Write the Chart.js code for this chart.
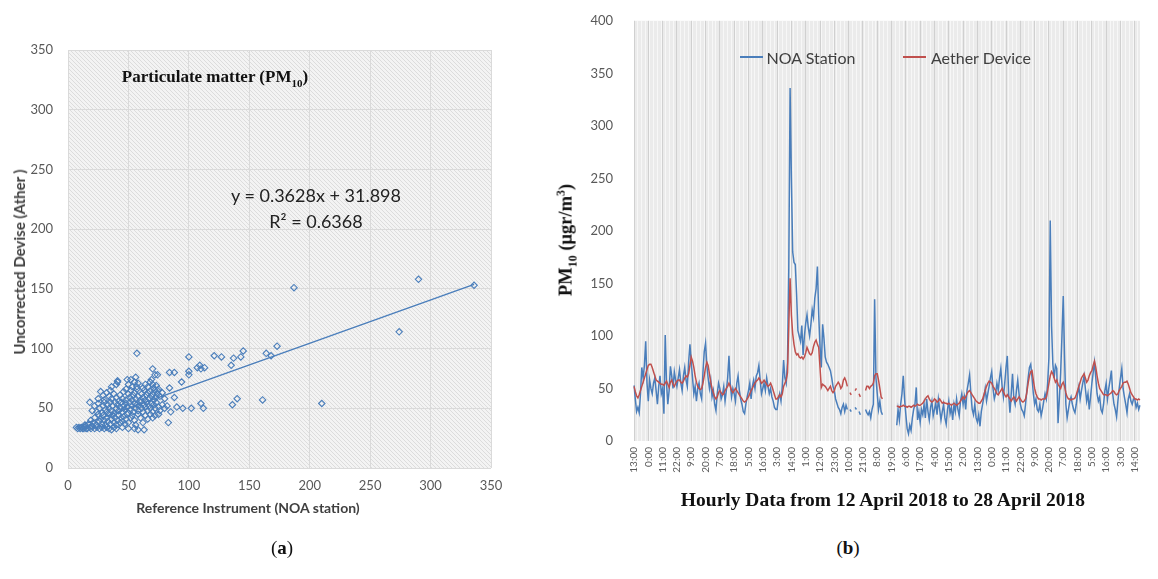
<!DOCTYPE html>
<html>
<head>
<meta charset="utf-8">
<script src="https://cdn.jsdelivr.net/npm/chart.js@4.4.1/dist/chart.umd.min.js"></script>
<style>
  body { margin: 0; background: #fff; width: 1158px; height: 579px; position: relative; overflow: hidden; font-family: Lato, "Open Sans", sans-serif; }
  .box { position: absolute; }
  .t { position: absolute; white-space: nowrap; transform: translate(-50%, -50%); }
  .serif { font-family: "Liberation Serif", "DejaVu Serif", serif; font-weight: bold; color: #111; }
  .rot { transform: translate(-50%, -50%) rotate(-90deg); }
  .key { position: absolute; height: 2px; }
</style>
</head>
<body>
<div class="box" style="left:0;top:0;width:520px;height:500px"><canvas id="scatter"></canvas></div>
<div class="box" style="left:560px;top:0;width:598px;height:495px"><canvas id="series"></canvas></div>

<!-- (a) texts -->
<div class="t serif" style="left:215px;top:78px;font-size:17px">Particulate matter (PM<sub style="font-size:11px">10</sub>)</div>
<div class="t" style="left:316px;top:195px;font-size:18px;color:#222">y = 0.3628x + 31.898</div>
<div class="t" style="left:316px;top:221px;font-size:18px;color:#222">R² = 0.6368</div>
<div class="t rot" style="left:19px;top:262px;font-size:15px;font-weight:bold;color:#404040">Uncorrected Devise (Ather )</div>
<div class="t" style="left:248px;top:507px;font-size:14px;font-weight:bold;color:#404040">Reference Instrument (NOA station)</div>
<div class="t serif" style="left:282px;top:548px;font-size:19px;font-weight:normal">(<b>a</b>)</div>

<!-- (b) texts -->
<div class="key" style="left:740px;top:56px;width:23px;background:#4a7ebb"></div>
<div class="t" style="left:811px;top:57px;font-size:16px;color:#404040">NOA Station</div>
<div class="key" style="left:903px;top:56px;width:23px;background:#c0504d"></div>
<div class="t" style="left:981px;top:57px;font-size:16px;color:#404040">Aether Device</div>
<div class="t serif rot" style="left:567px;top:240px;font-size:18.5px">PM<sub style="font-size:12px">10</sub> (μgr/m<sup style="font-size:12px">3</sup>)</div>
<div class="t serif" style="left:883px;top:500px;font-size:19.5px">Hourly Data from 12 April 2018 to 28 April 2018</div>
<div class="t serif" style="left:848px;top:548px;font-size:19px;font-weight:normal">(<b>b</b>)</div>

<script>
// ---- (a) scatter: NOA station (x) vs uncorrected Aether (y)
const pointsA = [
  [7,34],[8,33],[9,34],[10,33],[11,34],[12,33],[13,33],[14,34],[15,33],[16,33],[18,34],[19,33],[20,35],[22,33],
  [24,34],[26,33],[28,34],[30,33],[32,34],[34,33],[36,32],[38,34],[40,33],[45,34],[50,33],[55,33],[58,32],[63,32],
  [14,36],[17,37],[19,40],[21,38],[22,42],[23,36],[25,45],[26,39],[27,41],[28,37],[29,44],[30,40],[31,36],[32,42],
  [33,39],[34,45],[35,37],[36,41],[37,44],[38,38],[39,42],[40,36],[41,40],[42,44],[43,38],[44,42],[45,39],[46,43],
  [47,37],[48,41],[49,45],[50,38],[52,42],[53,44],[55,40],[56,36],[58,45],[60,42],[62,38],[64,44],[66,41],[68,45],
  [70,42],[72,44],[75,45],
  [20,48],[22,52],[24,47],[25,54],[26,50],[28,46],[29,52],[30,55],[31,49],[32,47],[33,53],[34,50],[35,55],[36,48],
  [37,52],[38,46],[39,55],[40,50],[41,53],[42,48],[43,51],[44,55],[45,47],[46,52],[47,49],[48,54],[49,51],[50,46],
  [51,55],[52,49],[53,52],[54,47],[55,54],[56,50],[57,53],[58,48],[59,52],[60,55],[61,50],[62,47],[63,53],[64,51],
  [65,55],[66,48],[67,52],[68,50],[69,54],[70,47],[71,53],[72,50],[73,55],[75,51],[76,48],[78,53],[80,50],[82,52],
  [25,58],[27,64],[29,61],[30,57],[32,63],[34,60],[35,65],[36,58],[38,62],[40,59],[42,56],[43,61],[45,58],[46,64],
  [48,57],[50,62],[51,59],[52,65],[53,57],[54,61],[55,63],[56,58],[57,66],[58,60],[60,57],[61,62],[62,59],[63,65],
  [64,57],[65,61],[66,63],[67,58],[68,64],[69,60],[70,62],[71,57],[72,65],[73,59],[74,62],[76,60],[78,63],[80,58],
  [36,68],[40,70],[41,73],[48,66],[50,70],[52,74],[53,68],[55,72],[56,76],[57,68],[58,71],[62,67],[64,70],[66,68],
  [68,72],[69,74],[70,70],[71,67],[72,78],[73,69],[74,65],[75,66],
  [18,55],[41,72],[49,74],[57,96],[70,83],[74,78],[84,80],[88,80],[84,67],[83,38],[85,47],[88,59],[90,51],[95,50],
  [94,72],[100,93],[100,81],[100,78],[102,50],[107,84],[109,86],[110,83],[113,84],[110,54],[112,50],[121,94],
  [127,93],[135,86],[137,92],[136,53],[140,58],[143,93],[145,98],[161,57],[164,96],[168,94],[173,102],[187,151],
  [210,54],[274,114],[290,158],[336,153]
];
const trendA = [[7, 34.4], [336, 153.8]];   // y = 0.3628x + 31.898

// ---- (b) hourly series, 12 April 13:00 onwards (one row = 11 hours)
const noaStation = [
  53,40,28,32,27,45,70,60,72,95,55,
  38,58,50,45,55,60,48,35,52,62,45,
  50,26,101,55,35,48,71,62,50,66,58,
  52,60,68,55,48,62,70,58,52,75,92,
  75,60,45,52,38,50,55,45,40,65,85,
  93,72,60,50,58,42,48,35,29,45,55,
  50,40,44,52,38,48,60,81,55,42,50,
  45,38,55,62,48,40,35,28,26,35,42,
  48,55,40,52,58,50,62,65,72,58,45,
  50,55,48,60,52,45,50,42,38,32,30,
  30,40,45,38,52,77,60,55,75,165,336,
  250,180,170,168,140,105,100,95,110,82,100,
  112,120,108,100,111,125,118,136,145,166,120,
  90,70,111,98,80,75,73,70,67,60,52,
  48,40,36,32,30,26,32,35,28,34,30,
  null,30,28,null,null,32,30,null,28,25,null,
  24,null,30,27,25,28,22,30,35,135,60,
  45,30,38,28,25,null,null,null,null,null,null,
  null,null,null,null,15,30,20,35,45,62,40,
  25,12,7,15,10,22,30,35,51,20,28,
  18,30,25,35,22,40,28,20,32,38,24,
  30,36,25,40,30,20,28,35,22,16,30,
  38,26,32,20,35,28,40,30,24,38,45,
  35,42,30,48,55,63,45,30,25,35,22,
  18,25,14,28,35,42,50,38,45,52,60,
  66,50,40,45,55,48,60,69,52,42,55,
  70,81,45,27,45,64,40,35,48,58,45,
  35,30,28,24,35,48,60,70,73,60,45,
  35,40,30,28,35,24,30,38,45,40,55,
  80,210,110,73,60,72,69,17,40,65,100,
  138,80,35,22,30,38,42,35,30,27,35,
  45,52,40,48,55,62,50,38,45,30,42,
  55,65,75,60,45,38,42,30,27,35,48,
  55,40,50,58,67,45,35,30,23,38,50,
  60,69,50,42,35,27,40,45,38,35,40,
  40,32,36,30,34
];
const aetherDevice = [
  52,47,43,41,44,48,52,56,60,64,68,
  72,73,73,70,66,62,58,57,56,55,54,
  54,53,55,57,54,51,56,58,54,52,55,
  57,58,58,56,55,57,60,62,61,64,72,
  80,76,70,62,56,52,50,49,50,55,62,
  70,75,72,64,56,50,46,42,40,42,46,
  48,46,44,45,48,50,52,55,52,48,46,
  48,50,48,46,44,42,40,38,37,38,40,
  42,45,48,50,53,55,57,58,60,58,55,
  56,58,56,54,52,53,55,52,48,44,40,
  40,42,44,42,45,52,55,58,65,110,155,
  120,102,92,85,82,83,80,79,80,78,80,
  84,89,86,83,82,84,90,94,96,92,89,
  70,51,54,53,52,50,48,50,52,48,46,
  48,52,54,56,54,50,52,58,60,57,52,
  null,46,44,null,null,48,50,null,45,42,null,
  40,null,48,52,52,50,52,53,55,62,64,
  64,58,50,42,40,null,null,null,null,null,null,
  null,null,null,null,33,33,32,33,33,34,33,
  33,32,33,33,32,33,34,33,34,35,34,
  34,35,36,38,40,42,43,40,38,37,38,
  40,39,37,38,40,38,36,37,36,36,35,
  36,35,34,35,36,35,34,35,36,38,40,
  42,40,42,45,47,48,46,44,42,40,38,
  37,36,36,38,40,44,48,52,55,57,56,
  55,52,50,48,45,44,46,48,50,47,44,
  42,44,42,40,38,40,42,40,38,40,42,
  40,38,37,38,40,46,55,62,66,67,58,
  50,45,42,40,40,39,40,40,40,42,48,
  55,62,66,64,60,56,58,54,52,50,54,
  56,52,46,42,40,40,39,40,40,41,44,
  48,52,56,60,62,64,60,56,58,62,65,
  67,72,76,70,62,55,50,48,46,44,44,
  44,43,44,45,46,48,47,45,44,45,48,
  50,52,55,56,56,57,54,50,46,44,42,
  40,40,39,40,39
];
// one tick label every 11 hours
const tickLabels = ['13:00','0:00','11:00','22:00','9:00','20:00','7:00','18:00','5:00','16:00','3:00','14:00',
  '1:00','12:00','23:00','10:00','21:00','8:00','19:00','6:00','17:00','4:00','15:00','2:00',
  '13:00','0:00','11:00','22:00','9:00','20:00','7:00','18:00','5:00','16:00','3:00','14:00'];
const hours = noaStation.map((_, i) => i);

const tickFont = { family: 'Lato', size: 13 };
const tickColor = '#595959';

// diagonal hatch behind the scatter plot
const hatchBg = {
  id: 'hatchBg',
  beforeDraw(chart) {
    const { ctx, chartArea: a } = chart;
    const p = document.createElement('canvas');
    p.width = p.height = 4;
    const c = p.getContext('2d');
    c.fillStyle = '#f3f3f3';
    c.fillRect(0, 0, 4, 4);
    c.strokeStyle = '#dcdcdc';
    c.beginPath(); c.moveTo(0, 0); c.lineTo(4, 4); c.stroke();
    ctx.save();
    ctx.fillStyle = ctx.createPattern(p, 'repeat');
    ctx.fillRect(a.left, a.top, a.width, a.height);
    ctx.restore();
  }
};

const plainBg = {
  id: 'plainBg',
  beforeDraw(chart) {
    const { ctx, chartArea: a } = chart;
    ctx.save();
    ctx.fillStyle = '#ebebeb';
    ctx.fillRect(a.left, a.top, a.width, a.height);
    ctx.restore();
  }
};

new Chart(document.getElementById('scatter'), {
  type: 'scatter',
  data: {
    datasets: [
      {
        data: pointsA.map(p => ({ x: p[0], y: p[1] })),
        pointStyle: 'rectRot',
        pointRadius: 3.2,
        borderColor: '#4a7ebb',
        borderWidth: 1.1,
        backgroundColor: 'rgba(255,255,255,0)',
        order: 1,
      },
      {
        type: 'line',
        data: trendA.map(p => ({ x: p[0], y: p[1] })),
        borderColor: '#4a7ebb',
        borderWidth: 1.4,
        pointRadius: 0,
        order: 2,
      },
    ],
  },
  options: {
    responsive: true,
    maintainAspectRatio: false,
    animation: false,
    layout: { padding: { left: 0, top: 50, right: 29, bottom: 4 } },
    plugins: { legend: { display: false }, tooltip: { enabled: false } },
    scales: {
      x: {
        type: 'linear', min: 0, max: 350,
        ticks: { stepSize: 50, color: tickColor, font: tickFont, padding: 10 },
        grid: { color: '#dadada', drawTicks: false },
        border: { display: false },
        afterFit(s) { s.height = 28; },
      },
      y: {
        min: 0, max: 350,
        ticks: { stepSize: 50, color: tickColor, font: tickFont, padding: 15 },
        grid: { color: '#dadada', drawTicks: false },
        border: { display: false },
        afterFit(s) { s.width = 68; },
      },
    },
  },
  plugins: [hatchBg],
});

new Chart(document.getElementById('series'), {
  type: 'line',
  data: {
    labels: hours,
    datasets: [
      { label: 'NOA Station', data: noaStation, borderColor: '#4a7ebb', borderWidth: 1.5, pointRadius: 0, spanGaps: false, order: 2 },
      { label: 'Aether Device', data: aetherDevice, borderColor: '#c0504d', borderWidth: 1.5, pointRadius: 0, spanGaps: false, order: 1 },
    ],
  },
  options: {
    responsive: true,
    maintainAspectRatio: false,
    animation: false,
    layout: { padding: { left: 0, top: 18, right: 0, bottom: 4 } },
    plugins: { legend: { display: false }, tooltip: { enabled: false } },
    scales: {
      x: {
        ticks: {
          autoSkip: false, minRotation: 90, maxRotation: 90, padding: 6,
          color: tickColor, font: { family: 'Lato', size: 10 },
          callback: (v, i) => (i % 11 === 0 ? tickLabels[i / 11] : ''),
        },
        grid: {
          drawTicks: false,
          color: ctx => (ctx.index % 11 === 0 ? '#d0d0d0' : ctx.index % 3 === 0 ? '#f7f7f7' : 'rgba(0,0,0,0)'),
        },
        border: { display: false },
        afterFit(s) { s.height = 50; },
      },
      y: {
        min: 0, max: 400,
        ticks: { stepSize: 50, color: tickColor, font: tickFont, padding: 13 },
        grid: { display: false },
        border: { display: false },
        afterFit(s) { s.width = 74; },
      },
    },
  },
  plugins: [plainBg],
});
</script>
</body>
</html>
